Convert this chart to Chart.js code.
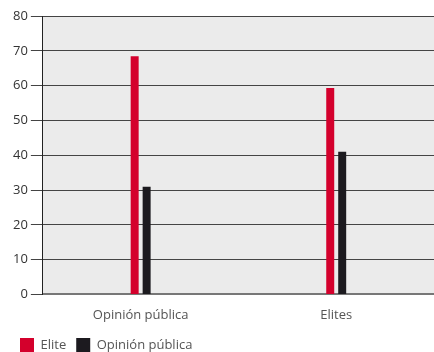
<!DOCTYPE html>
<html><head><meta charset="utf-8">
<script src="https://cdn.jsdelivr.net/npm/chart.js@4/dist/chart.umd.min.js"></script>
<style>html,body{margin:0;padding:0;background:#fff}#w{width:434px;height:352px}</style>
</head><body><div id="w"><canvas id="c"></canvas></div>
<script>
const categories = ["Opinión pública", "Elites"];
const eliteValues = [68.4, 59.3];
const publicValues = [30.9, 41.0];
const yTicks = [0, 10, 20, 30, 40, 50, 60, 70, 80];

const bgPlugin = {
  id: 'bg',
  beforeDraw(chart) {
    const {ctx, chartArea: a} = chart;
    ctx.save(); ctx.fillStyle = '#ebebeb';
    ctx.fillRect(a.left, a.top, a.right - a.left, a.bottom - a.top);
    ctx.restore();
  }
};

new Chart(document.getElementById('c'), {
  type: 'bar',
  data: {
    labels: categories,
    datasets: [
      {label: 'Elite', data: eliteValues, backgroundColor: '#d4002c'},
      {label: 'Opinión pública', data: publicValues, backgroundColor: '#1c1a1f'}
    ]
  },
  options: {
    responsive: true, maintainAspectRatio: false, animation: false,
    datasets: {bar: {categoryPercentage: 0.1224, barPercentage: 0.667}},
    layout: {padding: {top: 16, right: 0, left: 10, bottom: -10}},
    plugins: {
      tooltip: {enabled: false},
      legend: {
        position: 'bottom', align: 'start',
        labels: {boxWidth: 14, boxHeight: 14, color: '#555', padding: 10,
          font: {family: 'Open Sans', size: 13}}
      }
    },
    scales: {
      x: {
        grid: {display: false},
        border: {display: true, color: '#777', width: 2},
        ticks: {color: '#555', font: {family: 'Open Sans', size: 13}, padding: 5}
      },
      y: {
        min: 0, max: 80,
        afterBuildTicks(s) { s.ticks = yTicks.map(v => ({value: v})); },
        grid: {color: '#444', lineWidth: 1, tickLength: 12, drawTicks: true},
        border: {display: true, color: '#222', width: 1},
        ticks: {color: '#333', font: {family: 'Open Sans', size: 13}, padding: 3}
      }
    }
  },
  plugins: [bgPlugin]
});
</script></body></html>
